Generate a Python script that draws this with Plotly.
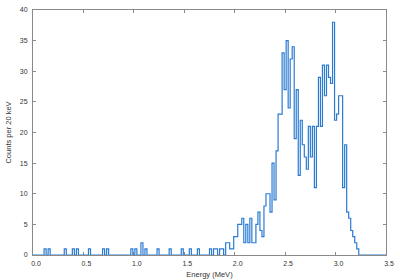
import plotly.graph_objects as go

# Histogram: counts per 20 keV bin, bins centred on 0.00, 0.02, ... 3.50 MeV
bin_width_mev = 0.02
counts = [
    0, 0, 0, 0, 0, 0, 1, 0, 1, 0,
    0, 0, 0, 0, 0, 0, 1, 0, 0, 0,
    1, 0, 1, 0, 0, 0, 0, 0, 1, 0,
    0, 0, 0, 0, 0, 1, 0, 1, 0, 0,
    0, 0, 0, 0, 0, 0, 0, 0, 0, 1,
    0, 1, 0, 0, 2, 0, 1, 0, 0, 0,
    0, 0, 1, 0, 0, 0, 0, 0, 1, 0,
    0, 0, 0, 0, 1, 0, 0, 0, 1, 0,
    0, 0, 1, 0, 0, 0, 0, 0, 1, 0,
    1, 1, 0, 1, 1, 0, 2, 2, 1, 1,
    3, 3, 5, 5, 6, 2, 5, 2, 6, 2,
    2, 5, 7, 4, 3, 8, 10, 10, 7, 15,
    9, 17, 23, 23, 33, 27, 35, 24, 32, 34,
    19, 27, 13, 22, 18, 16, 14, 21, 16, 21,
    11, 21, 29, 21, 31, 26, 31, 29, 28, 38,
    22, 23, 26, 26, 11, 18, 7, 6, 4, 3,
    2, 1, 0, 0, 0, 0, 0, 0, 0, 0,
    0, 0, 0, 0, 0, 0,
]
energy_mev = [round(i * bin_width_mev, 2) for i in range(len(counts))]

x_ticks = [0.0, 0.5, 1.0, 1.5, 2.0, 2.5, 3.0, 3.5]
y_ticks = [0, 5, 10, 15, 20, 25, 30, 35, 40]

fig = go.Figure(
    go.Scatter(
        x=energy_mev,
        y=counts,
        mode="lines",
        line=dict(shape="hvh", color="#2b7bd3", width=1.2),
        hoverinfo="skip",
    )
)

axis_common = dict(
    showline=True,
    linecolor="#8a8a8a",
    linewidth=1,
    mirror="ticks",
    ticks="inside",
    ticklen=3,
    tickcolor="#8a8a8a",
    showgrid=False,
    zeroline=False,
    tickfont=dict(size=7, color="#333333"),
    ticklabeloverflow="allow",
    layer="below traces",
    automargin=False,
)

fig.update_layout(
    width=400,
    height=280,
    margin=dict(l=33, r=14, t=10, b=25, autoexpand=False),
    paper_bgcolor="white",
    plot_bgcolor="white",
    font=dict(family="Liberation Sans, Arial, sans-serif", size=7, color="#333333"),
    showlegend=False,
    hovermode=False,
    xaxis=dict(
        range=[0, 3.5],
        tickvals=x_ticks,
        ticktext=[f"{v:.1f}" for v in x_ticks],
        ticklabelstandoff=2,
        ticklabelshift=3,
        title=dict(text="Energy (MeV)", font=dict(size=7.5), standoff=5),
        **axis_common,
    ),
    yaxis=dict(
        range=[0, 40],
        tickvals=y_ticks,
        ticktext=[str(v) for v in y_ticks],
        ticklabelstandoff=3,
        title=dict(text="Counts per 20 keV", font=dict(size=7.5), standoff=7),
        **axis_common,
    ),
)

# remove the default 8 px page margin so the 400x280 figure fills the window exactly
fig.write_html(
    "out.html",
    config={"displayModeBar": False, "staticPlot": True},
    post_script="document.body.style.margin='0';",
)
